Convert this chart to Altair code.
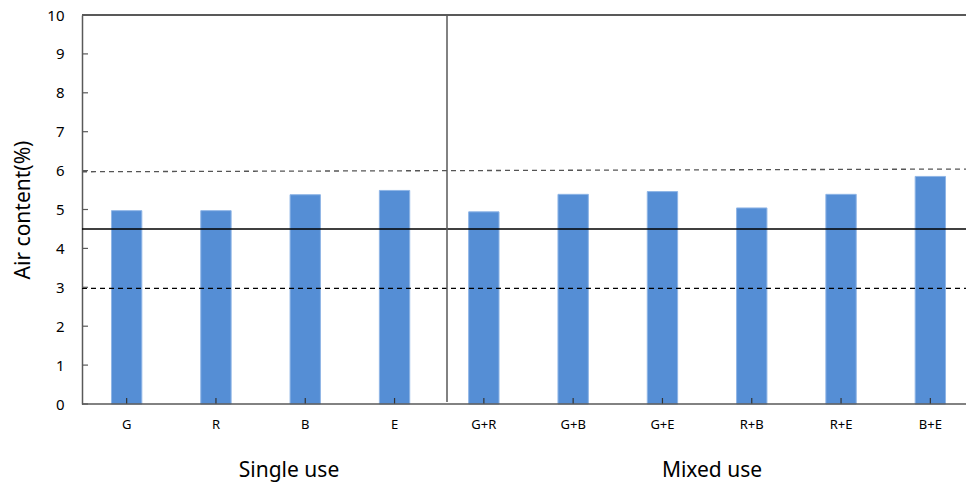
import altair as alt
import pandas as pd

# Air content by admixture, single and mixed use
categories = ["G", "R", "B", "E", "G+R", "G+B", "G+E", "R+B", "R+E", "B+E"]
air_content = [4.97, 4.97, 5.38, 5.49, 4.94, 5.39, 5.46, 5.04, 5.39, 5.85]
y_ticks = [0, 1, 2, 3, 4, 5, 6, 7, 8, 9, 10]
group_names = ["Single use", "Mixed use"]

# Reference limits (upper dashed line is drawn slightly tilted)
upper_limit = [5.97, 6.04]
target_line = 4.5
lower_limit = 2.97

# Layout
W, H = 884, 389
X_RANGE = [0, 893]
FONT = "Noto Sans"
AXIS_GREY = "#595959"
group_label_x = [207, 630]
divider_x = 365

bars_df = pd.DataFrame({"cat": categories, "air": air_content})
ticks_df = pd.DataFrame({"v": y_ticks})
one_row = pd.DataFrame({"k": [0]})

x_scale = alt.Scale(domain=categories, range=X_RANGE, paddingInner=0, paddingOuter=0)
y_scale = alt.Scale(domain=[0, 10], nice=False)

x_axis = alt.Axis(title=None, labelAngle=0, tickSize=0, labelPadding=14,
                  labelFontSize=13, labelFont=FONT, labelColor="#000000", domain=False)
y_axis = alt.Axis(values=y_ticks, tickSize=0, labelPadding=18, labelFontSize=15,
                  labelFont=FONT, labelColor="#000000", grid=False, labelOverlap=False,
                  title="Air content(%)", titleFontSize=21, titleFont=FONT,
                  titleFontWeight="normal", titleColor="#000000", titlePadding=13,
                  domainColor=AXIS_GREY, domainWidth=1.5)

bars = alt.Chart(bars_df).mark_bar(
    width=alt.RelativeBandSize(0.34), color="#558ed5", stroke="#8fb5e6", strokeWidth=1
).encode(
    x=alt.X("cat:N", scale=x_scale, sort=categories, axis=x_axis),
    y=alt.Y("air:Q", scale=y_scale, axis=y_axis),
)

# Inward tick marks
y_tick_marks = alt.Chart(ticks_df).mark_rule(color=AXIS_GREY, strokeWidth=1.2).encode(
    y=alt.Y("v:Q", scale=y_scale, axis=y_axis), x=alt.value(0), x2=alt.value(6)
)
x_tick_marks = alt.Chart(bars_df).mark_rule(color="#333333", strokeWidth=1.2).encode(
    x=alt.X("cat:N", scale=x_scale, sort=categories, bandPosition=0.5, axis=x_axis),
    y=alt.value(H), y2=alt.value(H - 6)
)

frame_top = alt.Chart(one_row).mark_rule(color=AXIS_GREY, strokeWidth=2).encode(
    x=alt.value(0), x2=alt.value(W), y=alt.value(0)
)
frame_bottom = alt.Chart(one_row).mark_rule(color=AXIS_GREY, strokeWidth=1.5).encode(
    x=alt.value(0), x2=alt.value(W), y=alt.value(H)
)
divider = alt.Chart(one_row).mark_rule(color=AXIS_GREY, strokeWidth=1.5).encode(
    x=alt.value(divider_x), y=alt.value(0), y2=alt.value(H - 2)
)

upper = alt.Chart(one_row).mark_rule(color="#555555", strokeWidth=1.3, strokeDash=[5, 4]).encode(
    x=alt.value(0), x2=alt.value(W),
    y=alt.datum(upper_limit[0], scale=y_scale, axis=y_axis), y2=alt.datum(upper_limit[1])
)
target = alt.Chart(one_row).mark_rule(color="#000000", strokeWidth=1.5).encode(
    x=alt.value(0), x2=alt.value(W), y=alt.datum(target_line, scale=y_scale, axis=y_axis)
)
lower = alt.Chart(one_row).mark_rule(color="#000000", strokeWidth=1.2, strokeDash=[5, 4]).encode(
    x=alt.value(0), x2=alt.value(W), y=alt.datum(lower_limit, scale=y_scale, axis=y_axis)
)

group_labels = [
    alt.Chart(one_row).mark_text(fontSize=21, font=FONT, fontWeight="normal",
                                 color="#000000").encode(
        x=alt.value(gx), y=alt.value(H + 67), text=alt.value(name)
    )
    for name, gx in zip(group_names, group_label_x)
]

chart = alt.layer(
    bars, upper, target, lower, y_tick_marks, x_tick_marks,
    frame_top, frame_bottom, divider, *group_labels
).properties(
    width=W, height=H,
    padding={"left": 82, "top": 15, "right": 0, "bottom": 81},
    autosize=alt.AutoSizeParams(type="none"),
).configure_view(stroke=None)

chart.save("out.html", embed_options={"renderer": "svg", "actions": False})
